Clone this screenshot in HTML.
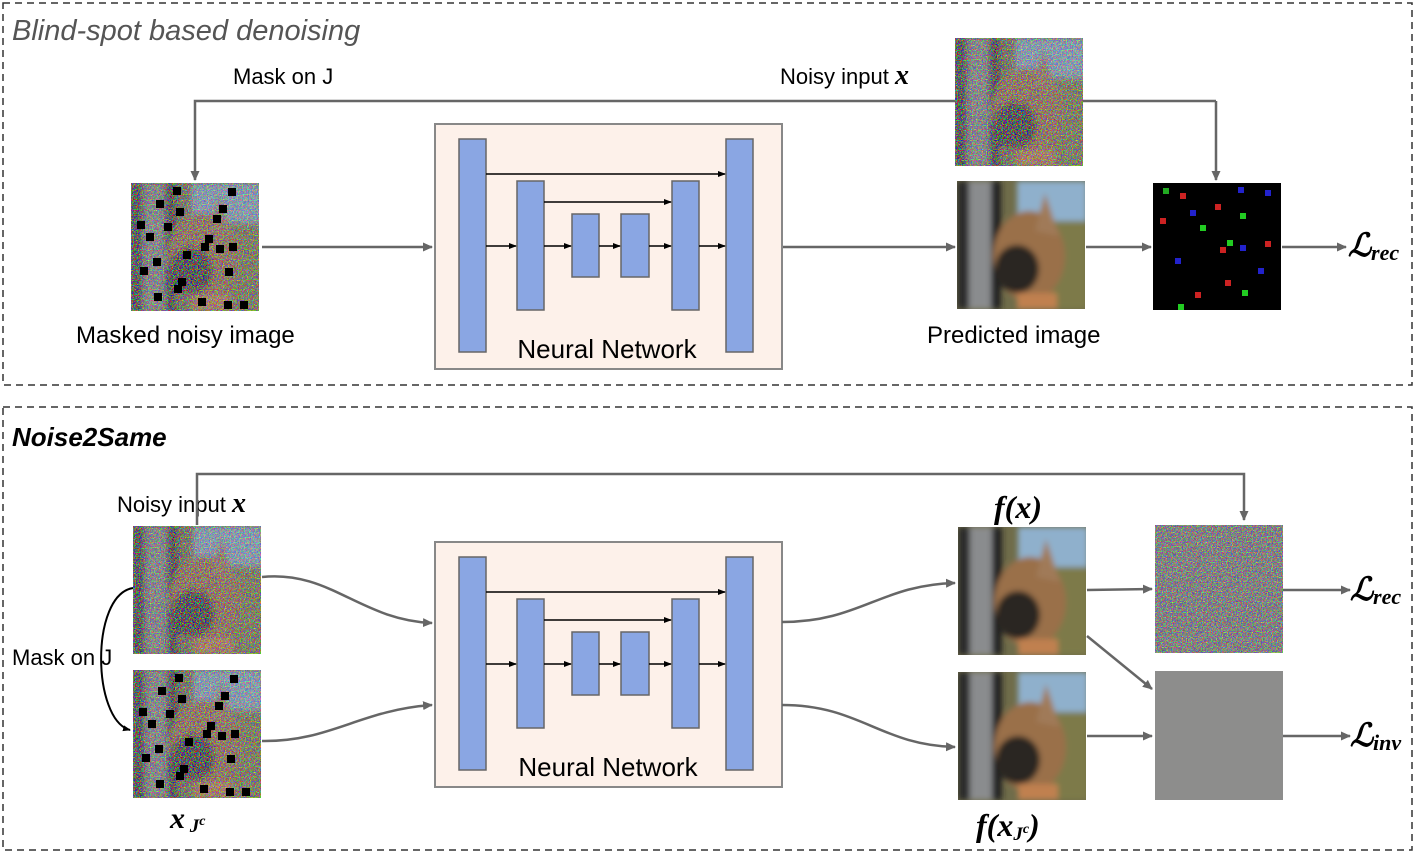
<!DOCTYPE html>
<html><head><meta charset="utf-8"><style>
html,body{margin:0;padding:0;background:#fff}
svg{display:block}
text{font-family:"Liberation Sans",sans-serif}
.m{font-family:"Liberation Serif",serif;font-style:italic;font-weight:bold}
</style></head><body>
<svg width="1416" height="852" viewBox="0 0 1416 852" xmlns="http://www.w3.org/2000/svg">
<defs>
<marker id="ag" markerWidth="10" markerHeight="10" refX="9" refY="5" orient="auto" markerUnits="userSpaceOnUse"><path d="M0,0.5 L10,5 L0,9.5 Z" fill="#666"/></marker>
<marker id="ak" markerWidth="8" markerHeight="8" refX="7" refY="4" orient="auto" markerUnits="userSpaceOnUse"><path d="M0,1 L8,4 L0,7 Z" fill="#000"/></marker>
<filter id="nz" x="0" y="0" width="1" height="1">
<feTurbulence type="fractalNoise" baseFrequency="0.8" numOctaves="1" seed="3" result="t"/>
<feColorMatrix in="t" type="matrix" values="5 -2 -2 0 -0.35  -2 5 -2 0 -0.35  -2 -2 5 0 -0.35  0 0 0 0 0.6" result="c"/>
<feComposite in="c" in2="SourceGraphic" operator="over"/>
</filter>
<filter id="bl"><feGaussianBlur stdDeviation="3"/></filter>
<clipPath id="cp"><rect width="128" height="128"/></clipPath>
<g id="dog">
<g clip-path="url(#cp)">
<rect width="128" height="128" fill="#6f6c4a"/>
<g filter="url(#bl)">
<rect x="60" y="0" width="70" height="40" fill="#8fb0cc"/>
<rect x="85" y="40" width="45" height="88" fill="#7d7a4a"/>
<rect x="0" y="0" width="14" height="128" fill="#2a2a2a"/>
<rect x="12" y="0" width="22" height="128" fill="#8a8c8e"/>
<rect x="34" y="0" width="10" height="128" fill="#222"/>
<ellipse cx="72" cy="75" rx="36" ry="45" fill="#9a7048"/>
<ellipse cx="60" cy="88" rx="22" ry="24" fill="#2c2620"/>
<path d="M78,50 L88,12 L102,55 Z" fill="#a07a58"/>
<rect x="60" y="112" width="40" height="16" fill="#c08050"/>
</g>
</g>
</g>
<g id="noisy"><g clip-path="url(#cp)"><g filter="url(#nz)"><use href="#dog"/></g></g></g>
<g id="masks" fill="#000">
<rect x="42" y="4" width="8" height="8"/><rect x="97" y="5" width="8" height="8"/><rect x="25" y="17" width="8" height="8"/><rect x="45" y="25" width="8" height="8"/><rect x="88" y="22" width="8" height="8"/><rect x="82" y="32" width="8" height="8"/><rect x="6" y="38" width="8" height="8"/><rect x="33" y="40" width="8" height="8"/><rect x="15" y="50" width="8" height="8"/><rect x="74" y="52" width="8" height="8"/><rect x="70" y="60" width="8" height="8"/><rect x="98" y="60" width="8" height="8"/><rect x="85" y="62" width="8" height="8"/><rect x="52" y="68" width="8" height="8"/><rect x="22" y="75" width="8" height="8"/><rect x="9" y="84" width="8" height="8"/><rect x="94" y="85" width="8" height="8"/><rect x="47" y="95" width="8" height="8"/><rect x="43" y="102" width="8" height="8"/><rect x="23" y="110" width="8" height="8"/><rect x="67" y="115" width="8" height="8"/><rect x="93" y="118" width="8" height="8"/><rect x="109" y="118" width="8" height="8"/>
</g>
<g id="unet">
<rect x="0" y="0" width="347" height="245" fill="#fdf1ea" stroke="#888" stroke-width="2"/>
<g fill="#8aa6e3" stroke="#666" stroke-width="1.5">
<rect x="24" y="15" width="27" height="213"/><rect x="82" y="57" width="27" height="129"/><rect x="137" y="90" width="27" height="63"/><rect x="186" y="90" width="28" height="63"/><rect x="237" y="57" width="27" height="129"/><rect x="291" y="15" width="27" height="213"/>
</g>
<g stroke="#000" stroke-width="1.5" marker-end="url(#ak)">
<line x1="51" y1="50" x2="290" y2="50"/><line x1="109" y1="78" x2="236" y2="78"/>
<line x1="51" y1="122" x2="81" y2="122"/><line x1="109" y1="122" x2="136" y2="122"/><line x1="164" y1="122" x2="185" y2="122"/><line x1="214" y1="122" x2="236" y2="122"/><line x1="264" y1="122" x2="290" y2="122"/>
</g>
</g>
</defs>

<rect x="3" y="3" width="1409" height="382" fill="none" stroke="#333" stroke-width="1.5" stroke-dasharray="7,5"/>
<rect x="3" y="407" width="1409" height="443" fill="none" stroke="#333" stroke-width="1.5" stroke-dasharray="7,5"/>

<text x="12" y="40" font-size="29" font-style="italic" fill="#555">Blind-spot based denoising</text>
<text x="233" y="84" font-size="22">Mask on J</text>
<text x="780" y="84" font-size="22">Noisy input <tspan class="m" font-size="28">x</tspan></text>
<text x="76" y="343" font-size="24">Masked noisy image</text>
<text x="927" y="343" font-size="24">Predicted image</text>

<g stroke="#666" stroke-width="2.5" fill="none">
<polyline points="1216,101 195,101 195,180" marker-end="url(#ag)"/>
<line x1="1216" y1="101" x2="1216" y2="180" marker-end="url(#ag)"/>
<line x1="262" y1="247" x2="432" y2="247" marker-end="url(#ag)"/>
<line x1="782" y1="247" x2="955" y2="247" marker-end="url(#ag)"/>
<line x1="1086" y1="247" x2="1151" y2="247" marker-end="url(#ag)"/>
<line x1="1282" y1="247" x2="1346" y2="247" marker-end="url(#ag)"/>
</g>
<g transform="translate(131,183)"><use href="#noisy"/><use href="#masks"/></g>
<g transform="translate(955,38)"><use href="#noisy"/></g>
<g transform="translate(957,181)"><use href="#dog"/></g>
<rect x="1153" y="183" width="128" height="127" fill="#000"/>
<g>
<rect x="1163" y="188" width="6" height="6" fill="#2a2"/><rect x="1180" y="193" width="6" height="6" fill="#c22"/><rect x="1238" y="187" width="6" height="6" fill="#22c"/><rect x="1265" y="190" width="6" height="6" fill="#22c"/><rect x="1215" y="204" width="6" height="6" fill="#c22"/><rect x="1240" y="213" width="6" height="6" fill="#2c2"/><rect x="1190" y="210" width="6" height="6" fill="#22c"/><rect x="1160" y="218" width="6" height="6" fill="#c22"/><rect x="1200" y="225" width="6" height="6" fill="#2c2"/><rect x="1227" y="240" width="6" height="6" fill="#2c2"/><rect x="1240" y="245" width="6" height="6" fill="#22c"/><rect x="1265" y="241" width="6" height="6" fill="#c22"/><rect x="1220" y="247" width="6" height="6" fill="#c22"/><rect x="1175" y="258" width="6" height="6" fill="#22c"/><rect x="1258" y="268" width="6" height="6" fill="#22c"/><rect x="1225" y="280" width="6" height="6" fill="#c22"/><rect x="1195" y="292" width="6" height="6" fill="#c22"/><rect x="1242" y="290" width="6" height="6" fill="#2c2"/><rect x="1178" y="304" width="6" height="6" fill="#2c2"/>
</g>
<g transform="translate(435,124)"><use href="#unet"/></g>
<text x="607" y="358" font-size="26" text-anchor="middle">Neural Network</text>
<text x="1348" y="256" class="m" font-size="32">ℒ<tspan font-size="22" dy="4">rec</tspan></text>

<text x="12" y="446" font-size="26" font-style="italic" font-weight="bold">Noise2Same</text>
<text x="117" y="512" font-size="22">Noisy input <tspan class="m" font-size="28">x</tspan></text>
<text x="12" y="665" font-size="22">Mask on J</text>
<text x="170" y="828" class="m" font-size="30">x<tspan font-size="19" dy="4"> J</tspan><tspan font-size="14" dy="-7">c</tspan></text>
<text x="994" y="518" class="m" font-size="32" font-weight="normal">f(<tspan font-weight="bold">x</tspan>)</text>
<text x="976" y="836" class="m" font-size="32" font-weight="normal">f(<tspan font-weight="bold">x</tspan><tspan font-size="19" dy="4">J</tspan><tspan font-size="14" dy="-7">c</tspan><tspan dy="3">)</tspan></text>

<g transform="translate(435,542)"><use href="#unet"/></g>
<text x="608" y="776" font-size="26" text-anchor="middle">Neural Network</text>

<g stroke="#666" stroke-width="2.5" fill="none">
<polyline points="197,525 197,474 1244,474 1244,520" marker-end="url(#ag)"/>
<path d="M262,577 C330,570 360,620 432,623" marker-end="url(#ag)"/>
<path d="M262,741 C330,742 360,710 432,705" marker-end="url(#ag)"/>
<path d="M782,622 C860,622 880,585 955,583" marker-end="url(#ag)"/>
<path d="M782,705 C860,705 880,745 955,747" marker-end="url(#ag)"/>
<line x1="1087" y1="590" x2="1152" y2="589" marker-end="url(#ag)"/>
<line x1="1087" y1="636" x2="1152" y2="689" marker-end="url(#ag)"/>
<line x1="1087" y1="736" x2="1152" y2="736" marker-end="url(#ag)"/>
<line x1="1283" y1="590" x2="1350" y2="590" marker-end="url(#ag)"/>
<line x1="1283" y1="736" x2="1350" y2="736" marker-end="url(#ag)"/>
</g>
<path d="M133,588 C90,595 92,720 130,730" fill="none" stroke="#000" stroke-width="2" marker-end="url(#ak)"/>
<g transform="translate(133,526)"><use href="#noisy"/></g>
<g transform="translate(133,670)"><use href="#noisy"/><use href="#masks"/></g>
<g transform="translate(958,527)"><use href="#dog"/></g>
<g transform="translate(958,672)"><use href="#dog"/></g>
<g transform="translate(1155,525)"><g clip-path="url(#cp)"><rect width="128" height="128" fill="#808080" filter="url(#nz)"/></g></g>
<rect x="1155" y="671" width="128" height="129" fill="#8d8d8c"/>
<text x="1350" y="600" class="m" font-size="32">ℒ<tspan font-size="22" dy="4">rec</tspan></text>
<text x="1350" y="746" class="m" font-size="32">ℒ<tspan font-size="22" dy="4">inv</tspan></text>
</svg>
</body></html>
